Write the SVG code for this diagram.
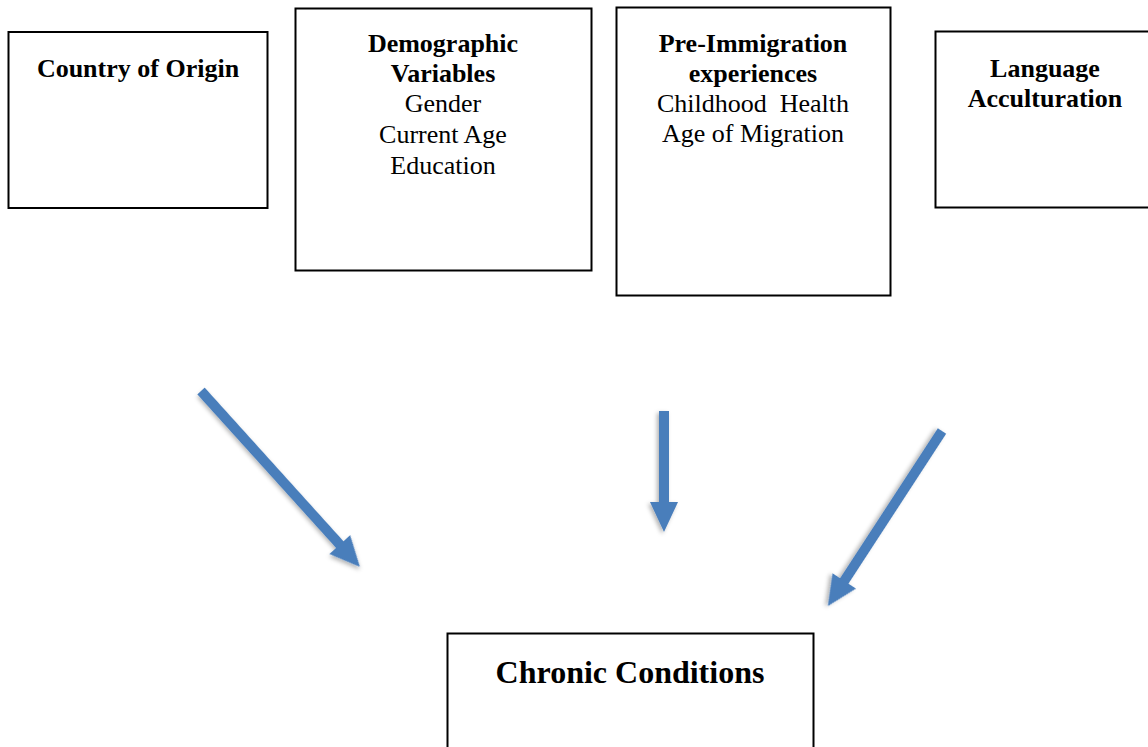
<svg xmlns="http://www.w3.org/2000/svg" width="1148" height="747" viewBox="0 0 1148 747">
<style>
.box{fill:#fff;stroke:#000;stroke-width:2}
text{font-family:"Liberation Serif","Times New Roman",serif;text-anchor:middle;fill:#000}
.b{font-weight:bold;font-size:26px}
.r{font-size:26px}
.big{font-weight:bold;font-size:32px}
.arr{fill:#4a7ebb;filter:url(#sh)}
</style>
<defs>
<filter id="sh" x="-20%" y="-20%" width="140%" height="140%">
<feDropShadow dx="2" dy="2" stdDeviation="2" flood-color="#000" flood-opacity="0.3"/>
</filter>
</defs>
<rect width="1148" height="747" fill="#fff"/>
<g id="country">
<rect class="box" x="8.500" y="32" width="259" height="176"/>
<text class="b" x="138" y="77">Country of Origin</text>
</g>
<g id="demographic">
<rect class="box" x="295.500" y="8.500" width="296" height="262"/>
<text class="b" x="443" y="52">Demographic</text>
<text class="b" x="443" y="82">Variables</text>
<text class="r" x="443" y="112">Gender</text>
<text class="r" x="443" y="143">Current Age</text>
<text class="r" x="443" y="174">Education</text>
</g>
<g id="preimmigration">
<rect class="box" x="616.500" y="7.500" width="274" height="288"/>
<text class="b" x="753" y="52">Pre-Immigration</text>
<text class="b" x="753" y="82">experiences</text>
<text class="r" x="753" y="112" xml:space="preserve">Childhood  Health</text>
<text class="r" x="753" y="142">Age of Migration</text>
</g>
<g id="language">
<rect class="box" x="935.500" y="31.500" width="220" height="176"/>
<text class="b" x="1045" y="77">Language</text>
<text class="b" x="1045" y="107">Acculturation</text>
</g>
<g id="chronic">
<rect class="box" x="447.500" y="633.500" width="366" height="130"/>
<text class="big" x="630" y="683">Chronic Conditions</text>
</g>
<g id="connectors">
<polygon class="arr" transform="translate(201,391) rotate(47.9)" points="0,-5 207,-5 207,-14 237,0 207,14 207,5 0,5"/>
<polygon class="arr" transform="translate(664,411) rotate(90)" points="0,-5 91,-5 91,-14 121,0 91,14 91,5 0,5"/>
<polygon class="arr" transform="translate(942,431) rotate(123.1)" points="0,-5 179,-5 179,-14 209,0 179,14 179,5 0,5"/>
</g>
</svg>
